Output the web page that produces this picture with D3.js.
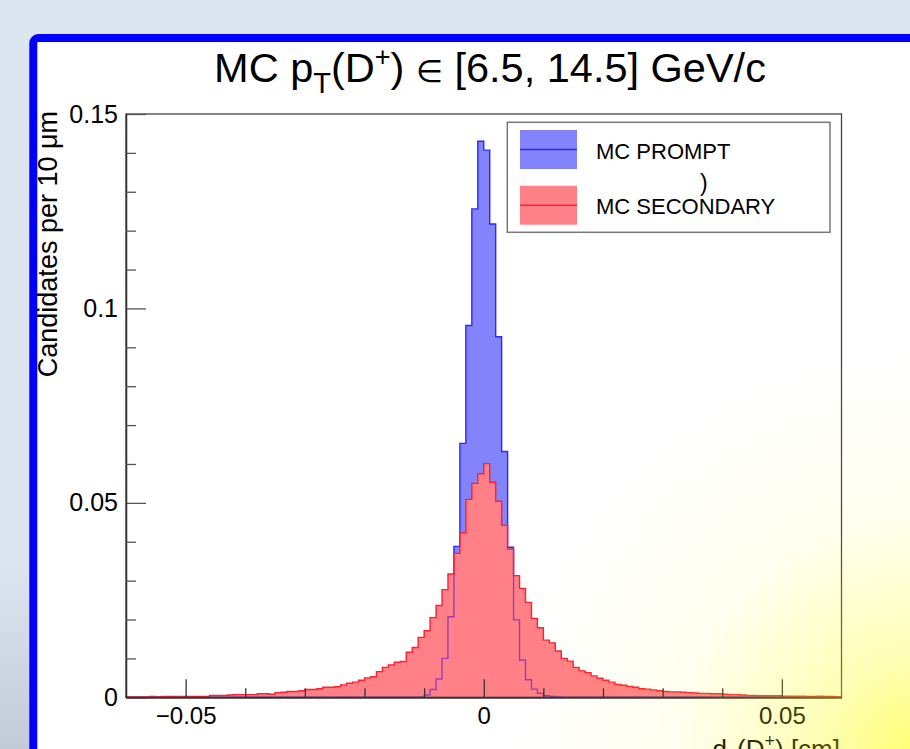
<!DOCTYPE html>
<html>
<head>
<meta charset="utf-8">
<script src="https://cdn.jsdelivr.net/npm/d3@7"></script>
<style>
  body { margin: 0; background: #dce5f0; }
  svg { display: block; }
  text { font-family: "Liberation Sans", Arial, sans-serif; fill: #000; }
</style>
</head>
<body>
<svg id="chart" width="910" height="749"></svg>
<script>
// binning: 120 bins of 10 um (0.001 cm) from -0.06 to 0.06
var binLow = -0.06, binWidth = 0.001;

// MC prompt, bins k = -60 .. 59
var promptVals = [
  0, 0, 0, 0, 0, 0, 0, 0, 0, 0,
  0, 0, 0, 0, 0, 0, 0, 0, 0, 0,
  0, 0, 0, 0, 0, 0, 0, 0, 0, 0,
  0, 0, 0, 0, 0, 0, 0, 0, 0, 0,
  0, 0, 0, 0, 0, 0, 0, 0, 0, 0.0001,
  0.0006, 0.0020, 0.0047, 0.0100, 0.0207, 0.0388, 0.0653, 0.0956, 0.1256, 0.1430,
  0.1407, 0.1217, 0.0927, 0.0632, 0.0386, 0.0199, 0.0096, 0.0045, 0.0021, 0.0010,
  0.0004, 0.0002, 0.0001, 0, 0, 0, 0, 0, 0, 0,
  0, 0, 0, 0, 0, 0, 0, 0, 0, 0,
  0, 0, 0, 0, 0, 0, 0, 0, 0, 0,
  0, 0, 0, 0, 0, 0, 0, 0, 0, 0,
  0, 0, 0, 0, 0, 0, 0, 0, 0, 0
];

// MC secondary (feed-down)
var secondaryVals = [
  0.0001, 0.0001, 0.0001, 0.0001, 0.0002, 0.0001, 0.0002, 0.0002, 0.0002, 0.0002,
  0.0002, 0.0002, 0.0002, 0.0002, 0.0005, 0.0005, 0.0005, 0.0006, 0.0007, 0.0007,
  0.0007, 0.0007, 0.0009, 0.0009, 0.0008, 0.0012, 0.0013, 0.0015, 0.0015, 0.0017,
  0.0020, 0.0020, 0.0022, 0.0026, 0.0026, 0.0027, 0.0032, 0.0036, 0.0039, 0.0044,
  0.0050, 0.0053, 0.0066, 0.0077, 0.0083, 0.0090, 0.0092, 0.0116, 0.0128, 0.0154,
  0.0171, 0.0205, 0.0236, 0.0277, 0.0317, 0.0370, 0.0423, 0.0509, 0.0550, 0.0575,
  0.0601, 0.0553, 0.0504, 0.0442, 0.0381, 0.0313, 0.0280, 0.0244, 0.0203, 0.0179,
  0.0147, 0.0140, 0.0119, 0.0100, 0.0093, 0.0077, 0.0068, 0.0063, 0.0055, 0.0049,
  0.0044, 0.0039, 0.0033, 0.0031, 0.0028, 0.0026, 0.0022, 0.0021, 0.0019, 0.0017,
  0.0015, 0.0014, 0.0014, 0.0013, 0.0012, 0.0011, 0.0010, 0.0010, 0.0009, 0.0009,
  0.0008, 0.0007, 0.0007, 0.0006, 0.0005, 0.0005, 0.0004, 0.0004, 0.0004, 0.0004,
  0.0003, 0.0003, 0.0003, 0.0003, 0.0002, 0.0002, 0.0003, 0.0002, 0.0002, 0.0001
];

var xMajor = [-0.05, 0, 0.05];
var xMajorLabels = ["\u22120.05", "0", "0.05"];
var xMinor = [-0.04, -0.03, -0.02, -0.01, 0.01, 0.02, 0.03, 0.04];
var yMajor = [0, 0.05, 0.1, 0.15];
var yMajorLabels = ["0", "0.05", "0.1", "0.15"];
var yMinor = [0.01, 0.02, 0.03, 0.04, 0.06, 0.07, 0.08, 0.09, 0.11, 0.12, 0.13, 0.14];

var legendNames = ["MC PROMPT", "MC SECONDARY"];

var svg = d3.select("#chart");
var defs = svg.append("defs");

var lg = defs.append("linearGradient").attr("id", "leftfade")
  .attr("x1", 0).attr("y1", 0).attr("x2", 0).attr("y2", 1);
lg.append("stop").attr("offset", "0%").attr("stop-color", "#dce5f0");
lg.append("stop").attr("offset", "100%").attr("stop-color", "#c3cbd6");

var rg = defs.append("radialGradient").attr("id", "glare")
  .attr("gradientUnits", "userSpaceOnUse")
  .attr("cx", 915).attr("cy", 755).attr("r", 400);
rg.append("stop").attr("offset", "0%").attr("stop-color", "#ffff00").attr("stop-opacity", 0.55);
rg.append("stop").attr("offset", "25%").attr("stop-color", "#ffff00").attr("stop-opacity", 0.28);
rg.append("stop").attr("offset", "60%").attr("stop-color", "#ffff00").attr("stop-opacity", 0.06);
rg.append("stop").attr("offset", "100%").attr("stop-color", "#ffff00").attr("stop-opacity", 0);

// background and canvas
svg.append("rect").attr("x", 0).attr("y", 560).attr("width", 30).attr("height", 189).attr("fill", "url(#leftfade)");
svg.append("rect").attr("x", 33.3).attr("y", 38).attr("width", 1000).attr("height", 1000)
  .attr("rx", 5).attr("fill", "#fff").attr("stroke", "#0000ff").attr("stroke-width", 8);

var x = d3.scaleLinear().domain([-0.06, 0.06]).range([126, 841.5]);
var y = d3.scaleLinear().domain([0, 0.15]).range([697.3, 114]);

function stepPoints(vals) {
  var pts = [[x(binLow), y(0)]];
  vals.forEach(function (v, i) {
    var lo = binLow + i * binWidth, hi = lo + binWidth;
    pts.push([x(lo), y(v)]);
    pts.push([x(hi), y(v)]);
  });
  pts.push([x(binLow + vals.length * binWidth), y(0)]);
  return pts;
}
var line = d3.line();

var hists = [
  { vals: promptVals, fill: "#8383fb", stroke: "#2a2aff" },
  { vals: secondaryVals, fill: "#ff8086", stroke: "#ff2030" }
];
var promptPts = stepPoints(promptVals), secPts = stepPoints(secondaryVals);

defs.append("clipPath").attr("id", "secclip").append("path").attr("d", line(secPts) + "Z");

svg.append("path").attr("d", line(promptPts) + "Z").attr("fill", hists[0].fill);
svg.append("path").attr("d", line(promptPts)).attr("fill", "none")
  .attr("stroke", hists[0].stroke).attr("stroke-width", 1.4);
svg.append("path").attr("d", line(secPts) + "Z").attr("fill", hists[1].fill);
// prompt outline seen through the secondary fill
svg.append("path").attr("d", line(promptPts)).attr("fill", "none").attr("clip-path", "url(#secclip)")
  .attr("stroke", "#9a3fae").attr("stroke-width", 1.4);
svg.append("path").attr("d", line(secPts)).attr("fill", "none")
  .attr("stroke", hists[1].stroke).attr("stroke-width", 1.4);

// frame
svg.append("rect").attr("x", 126).attr("y", 114).attr("width", 841.5 - 126).attr("height", 697.3 - 114)
  .attr("fill", "none").attr("stroke", "#444").attr("stroke-width", 1.3);

// y axis
var yAx = svg.append("g").attr("transform", "translate(126,0)")
  .call(d3.axisLeft(y).tickValues(yMajor).tickSizeInner(-20).tickSizeOuter(0).tickPadding(8)
    .tickFormat(function (d, i) { return yMajorLabels[i]; }));
var yMin = svg.append("g").attr("transform", "translate(126,0)")
  .call(d3.axisLeft(y).tickValues(yMinor).tickSizeInner(-10).tickSizeOuter(0).tickFormat(""));
[yAx, yMin].forEach(function (g) {
  g.select(".domain").attr("stroke", "#333").attr("stroke-width", 1.3);
  g.selectAll(".tick line").attr("stroke", "#555").attr("stroke-width", 1.3);
});
yAx.selectAll(".tick text").attr("font-size", 25).attr("font-family", "Liberation Sans, Arial, sans-serif");

// x axis
var xAx = svg.append("g").attr("transform", "translate(0,697.3)")
  .call(d3.axisBottom(x).tickValues(xMajor).tickSizeInner(-18).tickSizeOuter(0).tickPadding(10)
    .tickFormat(function (d, i) { return xMajorLabels[i]; }));
var xMin = svg.append("g").attr("transform", "translate(0,697.3)")
  .call(d3.axisBottom(x).tickValues(xMinor).tickSizeInner(-9).tickSizeOuter(0).tickFormat(""));
[xAx, xMin].forEach(function (g) {
  g.select(".domain").attr("stroke", "#333").attr("stroke-width", 1.3);
  g.selectAll(".tick line").attr("stroke", "#333").attr("stroke-width", 1.3);
});
xAx.selectAll(".tick text").attr("font-size", 24).attr("font-family", "Liberation Sans, Arial, sans-serif");

// title
var t = svg.append("text").attr("x", 490).attr("y", 82).attr("text-anchor", "middle").attr("font-size", 41.5);
t.append("tspan").text("MC p");
t.append("tspan").attr("font-size", 29).attr("dy", 11).text("T");
t.append("tspan").attr("dy", -11).text("(D");
t.append("tspan").attr("font-size", 27).attr("dy", -16).text("+");
t.append("tspan").attr("dy", 16).text(") ");
t.append("tspan").attr("font-size", 31).text("\u2208");
t.append("tspan").text(" [6.5, 14.5] GeV/c");

// axis titles
svg.append("text").attr("transform", "translate(57,111) rotate(-90)")
  .attr("text-anchor", "end").attr("font-size", 27).text("Candidates per 10 \u03bcm");

var xt = svg.append("text").attr("x", 840).attr("y", 758).attr("text-anchor", "end").attr("font-size", 26);
xt.append("tspan").text("d");
xt.append("tspan").attr("font-size", 18).attr("dy", 6).text("0");
xt.append("tspan").attr("dy", -6).text("(D");
xt.append("tspan").attr("font-size", 18).attr("dy", -11).text("+");
xt.append("tspan").attr("dy", 11).text(") [cm]");

// legend
svg.append("rect").attr("x", 507.3).attr("y", 122.3).attr("width", 830 - 507.3).attr("height", 232.3 - 122.3)
  .attr("fill", "#fff").attr("stroke", "#777").attr("stroke-width", 1.5);
var leg = svg.append("g").selectAll("g").data(hists).enter().append("g")
  .attr("transform", function (d, i) { return "translate(0," + (i * 55.7) + ")"; });
leg.append("rect").attr("x", 520).attr("y", 130).attr("width", 57).attr("height", 39)
  .attr("fill", function (d) { return d.fill; });
leg.append("line").attr("x1", 520).attr("x2", 577).attr("y1", 149.6).attr("y2", 149.6)
  .attr("stroke", function (d) { return d.stroke; }).attr("stroke-width", 1.5);
leg.append("text").attr("x", 596).attr("y", 158.5).attr("font-size", 22)
  .text(function (d, i) { return legendNames[i]; });
// stray glyph in the original legend
svg.append("text").attr("x", 700).attr("y", 191).attr("font-size", 23).text(")");

// screen glare in the lower right
svg.append("rect").attr("x", 0).attr("y", 0).attr("width", 910).attr("height", 749)
  .attr("fill", "url(#glare)").attr("pointer-events", "none");
</script>
</body>
</html>
